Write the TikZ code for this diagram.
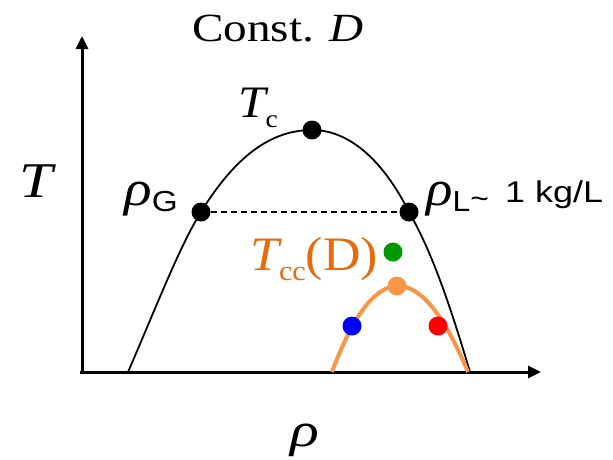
\documentclass[tikz,border=0pt]{standalone}
\usepackage{fontspec}
\setmainfont{Liberation Serif}
\setsansfont{Liberation Sans}
\usetikzlibrary{arrows.meta}
\definecolor{orcurve}{HTML}{F79646}
\definecolor{orlabel}{HTML}{E46C0A}
\definecolor{dgreen}{HTML}{009900}
\tikzset{
  axis/.style={line width=3pt,-{Triangle[length=13pt,width=12pt]}},
  dot/.style={circle,inner sep=0pt,minimum size=19pt},
  lbl/.style={inner sep=0pt,anchor=base west},
}
\newcommand{\hs}[2]{\scalebox{#1}[1]{#2}}
\begin{document}
\begin{tikzpicture}[x=1pt,y=-1pt]
\useasboundingbox (0,0) rectangle (613,459);
% axes
\coordinate (ytip) at (82,36);
\coordinate (xtip) at (541,372);
\coordinate (ybot) at (82,373.5);
\coordinate (xleft) at (80,372);
\draw[axis] (ybot) -- (ytip);
\draw[axis] (xleft) -- (xtip);
% dome
\coordinate (d0) at (128,372);
\coordinate (d5) at (470,372);
\node[dot,fill=black] (G) at (201,212) {};
\node[dot,fill=black] (C) at (312,130) {};
\node[dot,fill=black] (L) at (409,212) {};
\draw[line width=1.8pt] (d0) .. controls (155,310) and (180,245) .. (G.center)
  .. controls (230,165) and (265,130) .. (C.center)
  .. controls (355,130) and (388,170) .. (L.center)
  .. controls (432,252) and (450,305) .. (d5);
\draw[line width=1.5pt,dash pattern=on 6pt off 4pt] (G) -- (L);
% orange curve
\coordinate (o0) at (332,372);
\coordinate (o2) at (468,372);
\draw[line width=4pt,orcurve] (o0) .. controls (374.7,257.3) and (420,257.3) .. (o2);
\node[dot,fill=orcurve] (P) at (397,286) {};
\node[dot,fill=blue] (B) at (352,326) {};
\node[dot,fill=red] (R) at (438,326) {};
\node[dot,fill=dgreen] (Gr) at (393,252) {};
% labels
\node[lbl] (title) at (192,41) {\hs{1.18}{\fontsize{40}{40}\selectfont Const. \textit{D}}};
\node[lbl] (Tax) at (19,197) {\hs{1.2}{\fontsize{50}{50}\selectfont\itshape T}};
\node[lbl] (rhoax) at (290,446) {\hs{1.25}{\fontsize{48}{48}\selectfont\itshape ρ}};
\node[lbl] (Tc) at (238,117) {\hs{1.1}{\fontsize{45}{45}\selectfont\itshape T\fontsize{25}{25}\selectfont\upshape\raisebox{-10pt}{c}}};
\node[lbl] (rG) at (124,205) {\hs{1.15}{\fontsize{50}{50}\selectfont\itshape ρ\fontsize{29}{29}\selectfont\sffamily\upshape\raisebox{-6pt}{G}}};
\node[lbl] (rL) at (426,205) {\hs{1.1}{\fontsize{50}{50}\selectfont\itshape ρ\fontsize{29}{29}\selectfont\sffamily\upshape\raisebox{-6pt}{L\raisebox{3pt}{\textasciitilde}}}};
\node[lbl] (kg) at (505,202) {\hs{1.2}{\sffamily\fontsize{30}{30}\selectfont 1 kg/L}};
\node[lbl,text=orlabel] (Tcc) at (250,270) {\hs{1.08}{\fontsize{48}{48}\selectfont\itshape T\fontsize{28}{28}\selectfont\upshape\raisebox{-10pt}{cc}\fontsize{48}{48}\selectfont(D)}};
\end{tikzpicture}
\end{document}
